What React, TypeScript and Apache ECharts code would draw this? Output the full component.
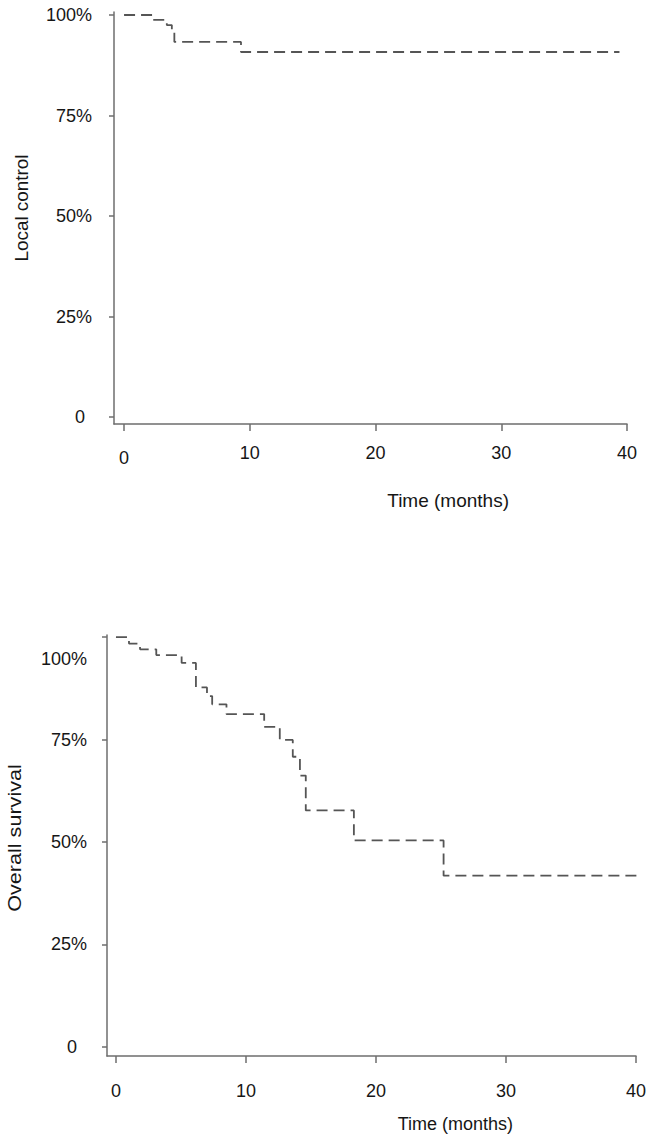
import React, { useEffect, useRef } from 'react';
import * as echarts from 'echarts';

// Axis ticks
const xTickValues = [0, 10, 20, 30, 40];
const yTickValues = [0, 25, 50, 75, 100];

// Local control (Kaplan–Meier, % event-free) — time in months
const lcTime = [0, 2.3, 3.4, 3.8, 4.0, 9.3, 39.4];
const lcValue = [100, 98.8, 97.5, 95.8, 93.3, 90.8, 90.8];

// Overall survival (Kaplan–Meier, %) — time in months
const osTime = [0, 1.0, 1.85, 3.1, 5.05, 6.15, 7.0, 7.4, 8.5, 11.4, 12.6, 13.6, 14.15, 14.6, 18.3, 25.2, 40.4];
const osValue = [100, 98.4, 97.0, 95.6, 93.7, 87.7, 85.6, 83.6, 81.2, 78.1, 74.9, 70.8, 66.2, 57.7, 50.4, 41.8, 41.8];

const FONT = "'Liberation Sans', Arial, Helvetica, sans-serif";
const TEXT = '#161616';
const AXIS = '#6e6e6e';
const CURVE = '#555555';
const FS = 18;

function pairs(t: number[], v: number[]) {
  return t.map((x, i) => [x, v[i]]);
}

export default function App() {
  const ref = useRef<HTMLDivElement>(null);
  useEffect(() => {
    document.body.style.margin = '0';
    const chart = echarts.init(ref.current!, null, { renderer: 'svg' });
    const axisLine = { show: true, lineStyle: { color: AXIS, width: 1.5 } };
    const baseLabel = { color: TEXT, fontSize: FS, fontFamily: FONT };
    const mkX = (idx: number, min: number, margin: number, zeroPad: number) => ({
      type: 'value',
      gridIndex: idx,
      min,
      max: 40,
      axisLine: { ...axisLine, onZero: false },
      splitLine: { show: false },
      axisTick: { show: true, customValues: xTickValues, length: 7, lineStyle: { color: AXIS, width: 1.5 } },
      axisLabel: {
        ...baseLabel,
        customValues: xTickValues,
        margin,
        formatter: (v: number) => (v === 0 ? '{z|0}' : String(v)),
        rich: { z: { ...baseLabel, padding: [zeroPad, 0, 0, 0] } },
      },
    });
    const mkY = (idx: number, min: number, max: number, margin: number, zeroRight: number, topShift: number) => ({
      type: 'value',
      gridIndex: idx,
      min,
      max,
      axisLine: { ...axisLine, onZero: false },
      splitLine: { show: false },
      axisTick: { show: true, customValues: yTickValues, length: 5, lineStyle: { color: AXIS, width: 1.5 } },
      axisLabel: {
        ...baseLabel,
        customValues: yTickValues,
        margin,
        formatter: (v: number) => (v === 0 ? '{z|0}' : v === 100 ? '{t|100%}' : v + '%'),
        rich: {
          z: { ...baseLabel, padding: [0, zeroRight, 0, 0] },
          t: { ...baseLabel, padding: [topShift * 2, 0, 0, 0] },
        },
      },
    });
    const seriesStyle = {
      type: 'line',
      step: 'end',
      showSymbol: false,
      symbol: 'none',
      clip: false,
      lineStyle: { color: CURVE, width: 1.8, type: [11, 6] },
    };
    chart.setOption({
      animation: false,
      grid: [
        { left: 114, top: 12, width: 513, height: 412 },
        { left: 107, top: 635, width: 529, height: 421 },
      ],
      xAxis: [mkX(0, -0.8, 20, 5), mkX(1, -0.69, 26, 0)],
      yAxis: [mkY(0, -1.74, 100.75, 22, 7, 0), mkY(1, -2.2, 100.5, 20, 10, 22)],
      series: [
        { ...seriesStyle, xAxisIndex: 0, yAxisIndex: 0, data: pairs(lcTime, lcValue) },
        { ...seriesStyle, xAxisIndex: 1, yAxisIndex: 1, data: pairs(osTime, osValue) },
      ],
      graphic: [
        {
          type: 'text', x: 509, y: 500,
          style: { text: 'Time (months)', fill: TEXT, font: `19px ${FONT}`, align: 'right', verticalAlign: 'middle' },
        },
        {
          type: 'text', x: 513, y: 1124,
          style: { text: 'Time (months)', fill: TEXT, font: `${FS}px ${FONT}`, align: 'right', verticalAlign: 'middle' },
        },
        {
          type: 'text', x: 22, y: 208, rotation: Math.PI / 2, scaleX: 1.05,
          style: { text: 'Local control', fill: TEXT, font: `${FS}px ${FONT}`, align: 'center', verticalAlign: 'middle' },
        },
        {
          type: 'text', x: 15, y: 838, rotation: Math.PI / 2, scaleX: 1.2,
          style: { text: 'Overall survival', fill: TEXT, font: `${FS}px ${FONT}`, align: 'center', verticalAlign: 'middle' },
        },
      ],
    });
    return () => chart.dispose();
  }, []);
  return <div ref={ref} style={{ width: 653, height: 1143 }} />;
}
